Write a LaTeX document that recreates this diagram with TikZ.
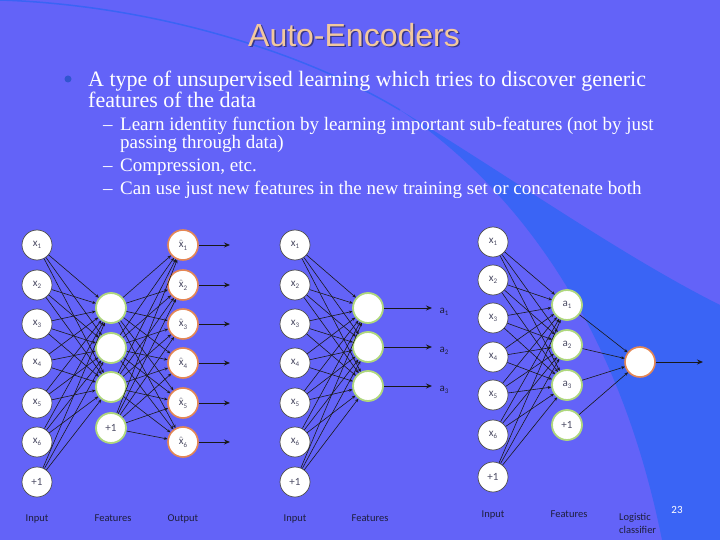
\documentclass[tikz,border=0pt]{standalone}
\usepackage{fontspec}
\setmainfont{Liberation Serif}
\newfontfamily\titlefont{Liberation Sans}
\newfontfamily\netfont{Carlito}
\usetikzlibrary{arrows.meta,positioning,calc}

\definecolor{slide}{RGB}{99,99,248}
\definecolor{swoosh}{RGB}{58,100,245}
\definecolor{titletan}{RGB}{242,200,158}
\definecolor{ink}{RGB}{30,30,60}
\definecolor{greenrim}{RGB}{175,215,125}
\definecolor{orangerim}{RGB}{228,135,85}

\newcommand{\unitlab}[2]{#1\raisebox{-0.45ex}{\scriptsize #2}}
\newcommand{\hatx}{$\hat{\hbox{x}}$}

\tikzset{
  unit/.style={circle, fill=white, minimum size=30pt, inner sep=0pt, font=\netfont\fontsize{11}{12}\selectfont, text=ink!80},
  inunit/.style={unit, draw=gray!60!black, line width=0.7pt},
  hidunit/.style={unit, draw=greenrim, line width=1.8pt},
  outunit/.style={unit, draw=orangerim, line width=1.6pt},
  wire/.style={-{Stealth[length=3.5pt,width=3pt]}, line width=0.6pt, black!90},
  outwire/.style={-{Stealth[length=6pt,width=5pt]}, line width=0.9pt, black!90},
  caption/.style={anchor=base, font=\netfont\fontsize{10.5}{12}\selectfont, text=ink},
  bodyline/.style={anchor=base west, text=white, inner sep=0pt},
}

\begin{document}
\begin{tikzpicture}[x=1pt,y=-1pt]
    % slide background
    \fill[slide] (0,0) rectangle (720,540);
    \useasboundingbox (0,0) rectangle (720,540);
    \fill[swoosh] (400,110) .. controls (500,170) and (620,255) .. (720,305)
        -- (720,540) -- (662,540) .. controls (620,330) and (520,190) .. (400,110) -- cycle;
    \draw[swoosh, line width=1.5pt] (0,0) .. controls (150,5) and (300,50) .. (400,110);

    % Title
    \node[font=\titlefont\fontsize{32}{36}\selectfont, text=black!45!slide] (titleshadow) at (355.5,36.5) {Auto-Encoders};
    \node[font=\titlefont\fontsize{32}{36}\selectfont, text=titletan] (title) at (354,35) {Auto-Encoders};

    % Bullet text
    \fill[swoosh!85!black] (68,79) circle (3.5);
    \node[bodyline, font=\fontsize{22}{24}\selectfont] (line1) at (88,87) {A type of unsupervised learning which tries to discover generic};
    \node[bodyline, font=\fontsize{22}{24}\selectfont] (line2) at (88,108) {features of the data};
    \node[bodyline, font=\fontsize{19}{21}\selectfont] (dash1) at (103,131) {--};
    \node[bodyline, font=\fontsize{19}{21}\selectfont] (sub1) at (120,131) {Learn identity function by learning important sub-features (not by just};
    \node[bodyline, font=\fontsize{19}{21}\selectfont] (sub1b) at (120,149) {passing through data)};
    \node[bodyline, font=\fontsize{19}{21}\selectfont] (dash2) at (103,172) {--};
    \node[bodyline, font=\fontsize{19}{21}\selectfont] (sub2) at (120,172) {Compression, etc.};
    \node[bodyline, font=\fontsize{19}{21}\selectfont] (dash3) at (103,195) {--};
    \node[bodyline, font=\fontsize{19}{21}\selectfont] (sub3) at (120,195) {Can use just new features in the new training set or concatenate both};

    % Network A: auto-encoder
    \foreach \i/\y in {1/245,2/285,3/324,4/363,5/403,6/442}
        \node[inunit] (ain\i) at (37,\y) {\unitlab{x}{\i}};
    \node[inunit] (ain7) at (37,482) {+1};
    \foreach \i/\y in {1/308,2/348,3/387}
        \node[hidunit] (ahid\i) at (111,\y) {};
    \node[hidunit] (ahid4) at (111,428) {+1};
    \foreach \i/\y in {1/245,2/285,3/324,4/363,5/403,6/442}
        \node[outunit] (aout\i) at (183,\y) {\unitlab{\hatx}{\i}};
    \foreach \i in {1,...,7}
        \foreach \j in {1,2,3}
            \draw[wire] (ain\i) -- (ahid\j);
    \foreach \i in {1,...,4}
        \foreach \j in {1,...,6}
            \draw[wire] (ahid\i) -- (aout\j);
    \foreach \j in {1,...,6} {
        \coordinate (aend\j) at ($(aout\j)+(47,0)$);
        \draw[outwire] (aout\j) -- (aend\j);
    }
    \node[caption] (ainput) at (37,521) {Input};
    \node[caption] (afeat) at (113,521) {Features};
    \node[caption] (aoutput) at (183,521) {Output};

    % Network B: features only
    \foreach \i/\y in {1/245,2/285,3/324,4/363,5/403,6/442}
        \node[inunit] (bin\i) at (295,\y) {\unitlab{x}{\i}};
    \node[inunit] (bin7) at (295,482) {+1};
    \foreach \i/\y in {1/308,2/347,3/386}
        \node[hidunit] (bhid\i) at (368,\y) {};
    \foreach \i in {1,...,7}
        \foreach \j in {1,2,3}
            \draw[wire] (bin\i) -- (bhid\j);
    \foreach \j in {1,2,3} {
        \coordinate (bend\j) at ($(bhid\j)+(64,0)$);
        \draw[outwire] (bhid\j) -- (bend\j);
        \node[anchor=west, font=\netfont\fontsize{11}{12}\selectfont, text=ink] (blab\j) at ($(bend\j)+(4,4)$) {\unitlab{a}{\j}};
    }
    \node[caption] (binput) at (295,521) {Input};
    \node[caption] (bfeat) at (370,521) {Features};

    % Network C: logistic classifier on features
    \foreach \i/\y in {1/242,2/280,3/318,4/357,5/395,6/435}
        \node[inunit] (cin\i) at (493,\y) {\unitlab{x}{\i}};
    \node[inunit] (cin7) at (493,477) {+1};
    \foreach \i/\y in {1/305,2/345,3/385}
        \node[hidunit] (chid\i) at (567,\y) {\unitlab{a}{\i}};
    \node[hidunit] (chid4) at (567,425) {+1};
    \node[outunit] (cout) at (640,362) {};
    \foreach \i in {1,...,7}
        \foreach \j in {1,2,3}
            \draw[wire] (cin\i) -- (chid\j);
    \foreach \i in {1,...,4}
        \draw[wire] (chid\i) -- (cout);
    \coordinate (cend) at (703,362);
    \draw[outwire] (cout) -- (cend);
    \node[caption] (cinput) at (493,517) {Input};
    \node[caption] (cfeat) at (569,517) {Features};
    \node[caption, align=left, anchor=north west, inner sep=0pt, font=\netfont\fontsize{10.5}{13}\selectfont] (clogit) at (619,513) {Logistic\\classifier};

    % page number
    \node[font=\netfont\fontsize{11}{12}\selectfont, text=white] (pagenum) at (677,510) {23};
\end{tikzpicture}
\end{document}
